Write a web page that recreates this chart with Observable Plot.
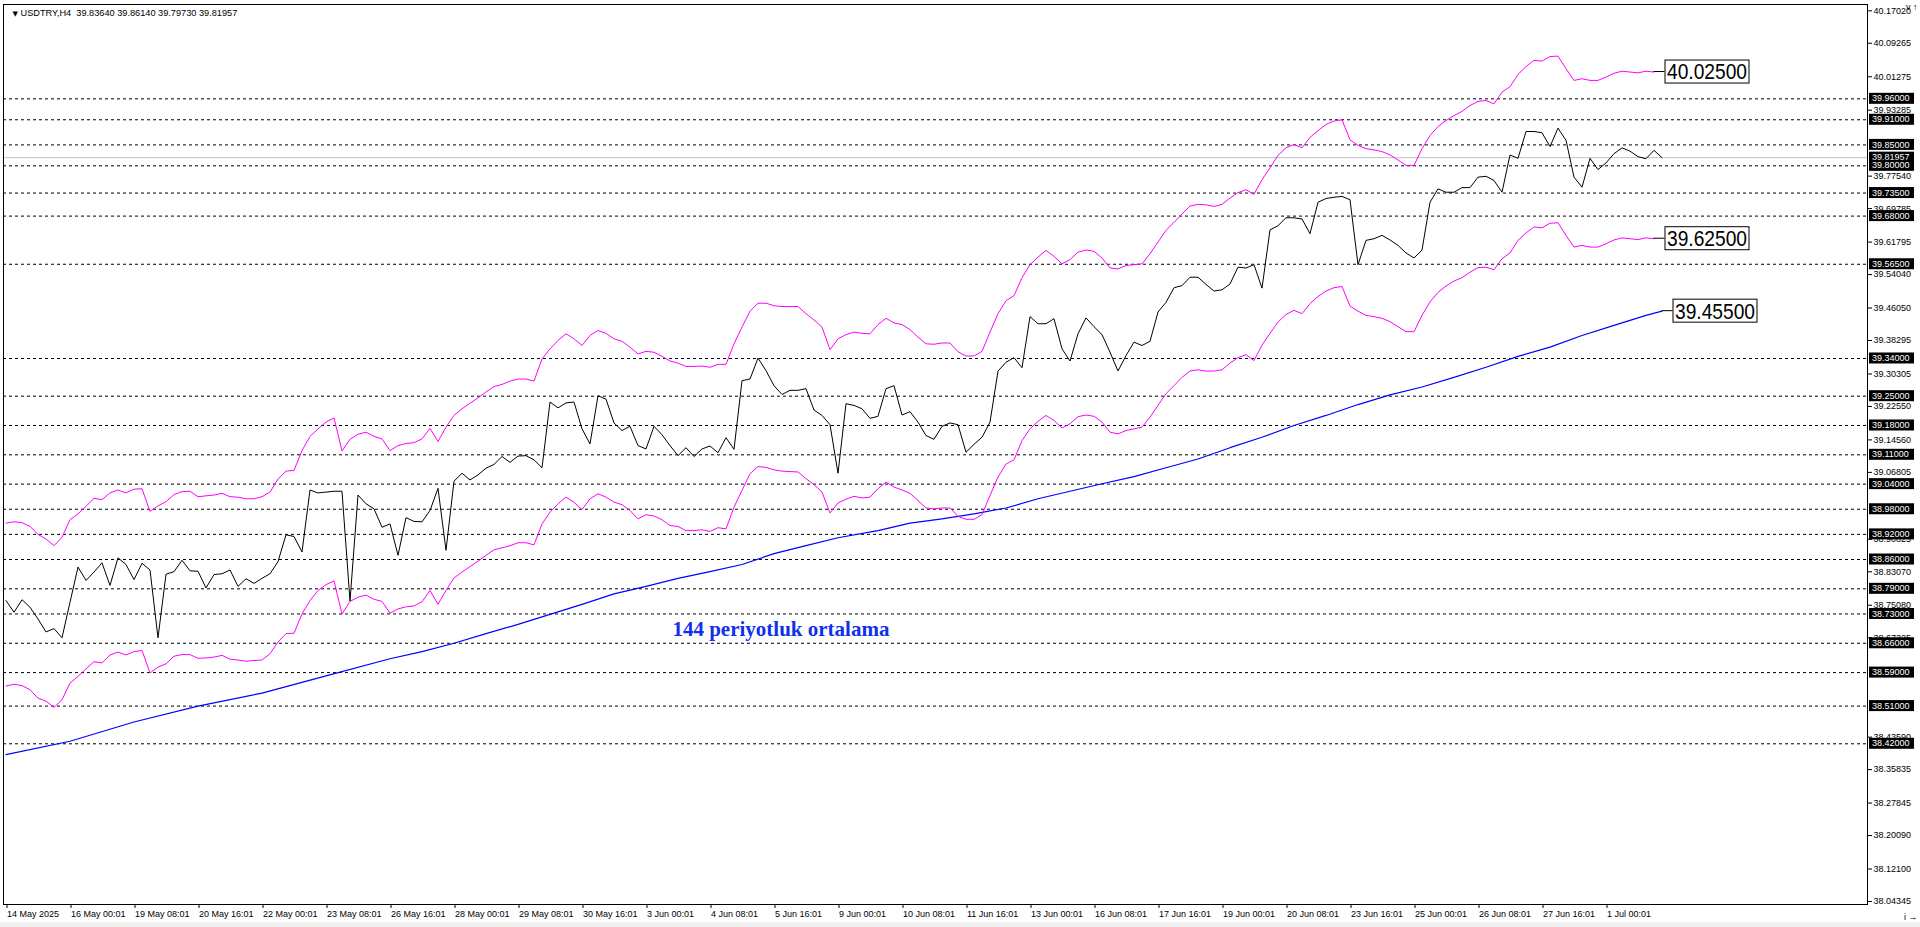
<!DOCTYPE html>
<html><head><meta charset="utf-8">
<script src="https://cdn.jsdelivr.net/npm/d3@7"></script>
<script src="https://cdn.jsdelivr.net/npm/@observablehq/plot@0.6"></script>
<style>
html,body{margin:0;padding:0;background:#f0f0f0;}
#chart{width:1920px;height:927px;position:relative;overflow:hidden;}
#chart svg{display:block;}
</style></head>
<body><div id="chart"></div>
<script>
const symbolTitle = "USDTRY,H4  39.83640 39.86140 39.79730 39.81957";
const maCaption = "144 periyotluk ortalama";

const xTickLabels = ["14 May 2025","16 May 00:01","19 May 08:01","20 May 16:01","22 May 00:01","23 May 08:01","26 May 16:01","28 May 00:01","29 May 08:01","30 May 16:01","3 Jun 00:01","4 Jun 08:01","5 Jun 16:01","9 Jun 00:01","10 Jun 08:01","11 Jun 16:01","13 Jun 00:01","16 Jun 08:01","17 Jun 16:01","19 Jun 00:01","20 Jun 08:01","23 Jun 16:01","25 Jun 00:01","26 Jun 08:01","27 Jun 16:01","1 Jul 00:01"];

const closeValues = [
38.762,38.734,38.764,38.746,38.718,38.687,38.695,38.673,38.758,38.842,
38.810,38.830,38.852,38.798,38.864,38.848,38.812,38.851,38.835,38.673,
38.825,38.831,38.858,38.833,38.832,38.792,38.824,38.826,38.835,38.796,
38.814,38.803,38.815,38.826,38.855,38.919,38.915,38.878,39.026,39.019,
39.021,39.023,39.023,38.761,39.014,38.993,38.981,38.937,38.945,38.870,
38.960,38.951,38.950,38.977,
39.030,38.882,39.047,39.066,39.050,39.062,39.078,39.087,39.106,39.092,
39.107,39.108,39.098,39.079,39.236,39.222,39.234,39.236,39.172,39.136,
39.251,39.243,39.186,39.168,39.178,39.132,39.124,39.178,39.158,39.132,
39.108,39.127,39.106,39.124,39.131,39.115,39.151,39.123,39.287,39.291,
39.341,39.311,39.275,39.254,39.264,39.264,39.268,39.217,39.204,39.182,
39.066,39.232,
39.228,39.220,39.197,39.202,39.268,39.275,39.205,39.213,39.188,39.156,
39.147,39.178,39.186,39.182,39.116,39.135,39.152,39.188,39.310,39.331,
39.342,39.318,39.440,39.423,39.423,39.435,39.363,39.334,39.399,39.437,
39.416,39.397,39.355,39.310,39.347,39.379,39.371,39.381,39.451,39.474,
39.509,39.514,39.534,39.534,39.517,39.501,39.504,39.518,39.558,39.556,
39.564,39.508,39.647,
39.657,39.676,39.676,39.673,39.638,39.713,39.722,39.725,39.727,39.719,
39.564,39.622,39.626,39.634,39.623,39.610,39.592,39.580,39.599,39.713,
39.745,39.737,39.737,39.748,39.748,39.773,39.775,39.765,39.737,39.826,
39.818,39.882,39.882,39.879,39.846,39.890,39.861,39.773,39.749,39.818,
39.791,39.807,39.829,39.843,39.835,39.822,39.817,39.837,39.81957];

const upperEnvelope = [
38.947,38.950,38.948,38.939,38.920,38.909,38.893,38.913,38.955,38.969,
38.987,39.006,39.003,39.019,39.026,39.019,39.028,39.029,38.975,38.988,
38.998,39.015,39.022,39.023,39.010,39.012,39.014,39.018,39.010,39.009,
39.005,39.005,39.010,39.021,39.052,39.071,39.073,39.120,39.154,39.172,
39.188,39.198,39.119,39.147,39.159,39.164,39.154,39.148,39.120,39.132,
39.137,39.139,39.148,39.173,
39.142,39.176,39.204,39.220,39.233,39.246,39.260,39.273,39.278,39.286,
39.291,39.291,39.286,39.339,39.363,39.383,39.399,39.387,39.371,39.395,
39.407,39.400,39.387,39.381,39.367,39.351,39.357,39.355,39.345,39.334,
39.329,39.321,39.321,39.322,39.319,39.326,39.326,39.375,39.415,39.453,
39.472,39.472,39.466,39.464,39.464,39.464,39.447,39.432,39.415,39.361,
39.387,39.397,
39.403,39.400,39.399,39.421,39.436,39.425,39.421,39.409,39.391,39.375,
39.374,39.377,39.377,39.356,39.346,39.346,39.357,39.403,39.447,39.478,
39.490,39.533,39.564,39.582,39.598,39.584,39.566,39.576,39.594,39.599,
39.596,39.580,39.556,39.554,39.562,39.564,39.566,39.590,39.618,39.646,
39.665,39.685,39.704,39.708,39.707,39.703,39.708,39.723,39.736,39.743,
39.732,39.767,39.795,
39.825,39.843,39.851,39.843,39.868,39.884,39.899,39.907,39.910,39.862,
39.849,39.841,39.838,39.834,39.826,39.814,39.801,39.801,39.841,39.872,
39.894,39.908,39.920,39.930,39.944,39.954,39.956,39.948,39.976,39.989,
40.018,40.037,40.052,40.050,40.061,40.062,40.032,40.004,40.008,40.004,
40.004,40.012,40.021,40.026,40.024,40.022,40.026,40.024];

const lowerEnvelope = [
38.558,38.562,38.559,38.549,38.529,38.522,38.507,38.525,38.565,38.581,
38.599,38.616,38.613,38.632,38.639,38.632,38.640,38.643,38.589,38.603,
38.611,38.629,38.633,38.633,38.624,38.625,38.627,38.631,38.622,38.620,
38.617,38.619,38.620,38.635,38.663,38.683,38.684,38.730,38.762,38.786,
38.800,38.809,38.730,38.760,38.770,38.775,38.765,38.760,38.732,38.742,
38.747,38.749,38.759,38.786,
38.753,38.786,38.816,38.830,38.843,38.856,38.870,38.883,38.888,38.893,
38.900,38.900,38.895,38.945,38.973,38.993,39.009,38.997,38.979,39.005,
39.017,39.009,38.997,38.991,38.977,38.957,38.967,38.964,38.955,38.941,
38.939,38.929,38.929,38.931,38.927,38.936,38.933,38.985,39.025,39.065,
39.082,39.080,39.074,39.071,39.070,39.069,39.053,39.039,39.021,38.971,
38.995,39.004,
39.011,39.007,39.009,39.029,39.045,39.033,39.026,39.018,39.001,38.983,
38.981,38.983,38.983,38.963,38.956,38.956,38.967,39.013,39.057,39.088,
39.098,39.144,39.172,39.190,39.204,39.192,39.174,39.184,39.201,39.205,
39.202,39.188,39.164,39.160,39.168,39.172,39.176,39.200,39.228,39.256,
39.275,39.295,39.310,39.313,39.310,39.310,39.313,39.329,39.342,39.349,
39.335,39.372,39.400,
39.427,39.445,39.455,39.447,39.471,39.488,39.501,39.509,39.512,39.465,
39.453,39.443,39.440,39.436,39.428,39.416,39.404,39.404,39.443,39.475,
39.498,39.513,39.525,39.533,39.546,39.557,39.558,39.552,39.578,39.592,
39.622,39.640,39.654,39.652,39.663,39.664,39.634,39.606,39.610,39.606,
39.606,39.614,39.623,39.628,39.626,39.624,39.628,39.626];

const maIndex  = [0,8,16,24,32,40,48,52,56,60,64,68,72,76,80,84,88,92,96,100,104,109,113,117,121,125,129,133,137,141,145,149,153,157,161,165,169,173,177,181,185,189,193,197,201,205,207];
const maValues = [38.394,38.426,38.472,38.510,38.541,38.582,38.623,38.640,38.660,38.683,38.705,38.729,38.753,38.778,38.796,38.815,38.831,38.848,38.874,38.893,38.912,38.929,38.947,38.957,38.969,38.983,39.005,39.023,39.041,39.058,39.079,39.100,39.127,39.152,39.180,39.204,39.230,39.253,39.272,39.295,39.319,39.345,39.367,39.395,39.419,39.443,39.453];

const levelValues = [39.96,39.91,39.85,39.80,39.735,39.68,39.565,39.34,39.25,39.18,39.11,39.04,38.98,38.92,38.86,38.79,38.73,38.66,38.59,38.51,38.42];
const currentPrice = 39.81957;

// regular price-scale ticks that remain visible beside the black level boxes
const yTickValues = [40.17020,40.09265,40.01275,39.93285,39.77540,39.69785,39.61795,39.54040,39.46050,39.38295,39.30305,39.22550,39.14560,39.06805,38.90825,38.83070,38.75080,38.67325,38.43590,38.35835,38.27845,38.20090,38.12100,38.04345];

const annotationTexts = ["40.02500","39.62500","39.45500"];

// tables built from the arrays
const closeData = closeValues.map((v, i) => ({i, v}));
const upperData = upperEnvelope.map((v, i) => ({i, v}));
const lowerData = lowerEnvelope.map((v, i) => ({i, v}));
const maData = maIndex.map((i, k) => ({i, v: maValues[k]}));
const xTickIdx = xTickLabels.map((_, k) => k * 8);
const annotations = [
  {i: upperData.length - 1, v: upperEnvelope[upperEnvelope.length - 1], text: annotationTexts[0]},
  {i: lowerData.length - 1, v: lowerEnvelope[lowerEnvelope.length - 1], text: annotationTexts[1]},
  {i: maIndex[maIndex.length - 1], v: maValues[maValues.length - 1], text: annotationTexts[2]}
];

function levelBoxes(index, scales, values, dims) {
  const g = d3.create("svg:g").attr("text-anchor", "start");
  const x0 = dims.width - dims.marginRight + 2;
  for (const v of [currentPrice, ...levelValues]) {
    const y = scales.y(v);
    g.append("rect").attr("x", x0).attr("y", y - 5.5).attr("width", 45).attr("height", 11).attr("fill", "#000");
    g.append("text").attr("x", x0 + 3).attr("y", y).attr("dy", "0.35em").attr("text-anchor", "start")
      .attr("fill", "#fff").attr("font-size", 9).text(d3.format(".5f")(v));
  }
  return g.node();
}

function annotationBoxes(index, scales, values, dims) {
  const g = d3.create("svg:g").attr("text-anchor", "start");
  for (const a of annotations) {
    const x = scales.x(a.i), y = scales.y(a.v);
    g.append("line").attr("x1", x).attr("x2", x + 11).attr("y1", y).attr("y2", y).attr("stroke", "#000");
    g.append("rect").attr("x", x + 11.5).attr("y", y - 11.5).attr("width", 84).attr("height", 23)
      .attr("fill", "#fff").attr("stroke", "#000");
    g.append("text").attr("x", x + 13.5).attr("y", y).attr("dy", "0.36em").attr("text-anchor", "start")
      .attr("font-size", 22).attr("font-family", "Liberation Sans, Arial, sans-serif")
      .attr("textLength", 80).attr("lengthAdjust", "spacingAndGlyphs")
      .attr("fill", "#000").text(a.text);
  }
  return g.node();
}

const chart = Plot.plot({
  width: 1920,
  height: 922,
  marginLeft: 3,
  marginRight: 53,
  marginTop: 4,
  marginBottom: 18,
  x: {type: "linear", domain: [-0.3125, 232.6875], axis: null},
  y: {type: "linear", domain: [38.03625, 40.18524], axis: null},
  style: {background: "#fff", fontFamily: "Liberation Sans, Arial, sans-serif", fontSize: "9px", overflow: "visible"},
  marks: [
    Plot.ruleY(levelValues, {stroke: "#000", strokeDasharray: "3,3", strokeWidth: 1}),
    Plot.ruleY([currentPrice], {stroke: "#c0c0c0", strokeWidth: 1}),
    Plot.line(maData, {x: "i", y: "v", stroke: "#0000ff", strokeWidth: 1.2}),
    Plot.line(upperData, {x: "i", y: "v", stroke: "#ff00ff", strokeWidth: 1}),
    Plot.line(lowerData, {x: "i", y: "v", stroke: "#ff00ff", strokeWidth: 1}),
    Plot.line(closeData, {x: "i", y: "v", stroke: "#000", strokeWidth: 1}),
    Plot.frame({stroke: "#000"}),
    Plot.axisY({anchor: "right", ticks: yTickValues, tickFormat: d3.format(".5f"), tickSize: 4, tickPadding: 2, fontSize: 9, fill: "#000"}),
    Plot.axisX({anchor: "bottom", ticks: xTickIdx, tickFormat: d => xTickLabels[Math.round(d / 8)], tickSize: 4, tickPadding: 2, textAnchor: "start", dx: 1, fontSize: 9, fill: "#000"}),
    levelBoxes,
    annotationBoxes,
    Plot.text([maCaption], {x: 83.3, y: 38.693, text: d => d, textAnchor: "start", fontSize: 21, fontWeight: "bold", fontFamily: "Liberation Serif, serif", fill: "#1030f0"}),
    Plot.text(["\u25BC"], {frameAnchor: "top-left", dx: 9, dy: 9, text: d => d, textAnchor: "start", lineAnchor: "middle", fontSize: 7, fontFamily: "DejaVu Sans", fill: "#000"}),
    Plot.text([symbolTitle], {frameAnchor: "top-left", dx: 17, dy: 9, text: d => d, textAnchor: "start", lineAnchor: "middle", fontSize: 9.2, fill: "#000"})
  ]
});
document.getElementById("chart").appendChild(chart);
</script>
</body></html>
